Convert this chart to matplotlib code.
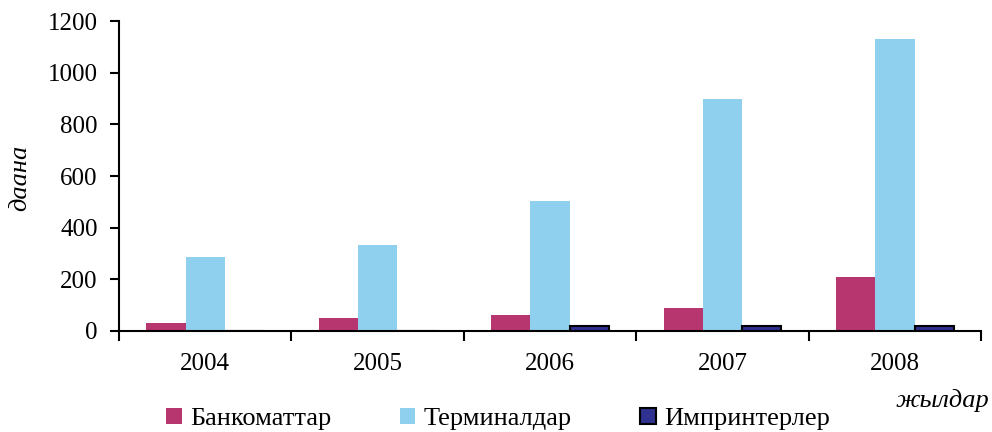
import numpy as np
import matplotlib.pyplot as plt

# data
years = ['2004', '2005', '2006', '2007', '2008']
bankomattar = [32, 50, 62, 89, 209]
terminaldar = [286, 333, 503, 898, 1130]
imprinterler = [0, 0, 20, 20, 20]

plt.rcParams['font.family'] = ['Liberation Serif', 'DejaVu Serif']

fig = plt.figure(figsize=(9.92, 4.32), dpi=100)
ax = fig.add_axes([0.12, 0.234, 0.869, 0.717])

x = np.arange(len(years))
w = 0.228
ax.bar(x - w, bankomattar, w, color='#B83670', label='Банкоматтар')
ax.bar(x, terminaldar, w, color='#8FD0EE', label='Терминалдар')
ax.bar(x + w, imprinterler, w, color='#2E3190', edgecolor='black', linewidth=1.5,
       label='Импринтерлер')

ax.set_xlim(-0.5, len(years) - 0.5)
ax.set_ylim(0, 1200)
ax.set_yticks(range(0, 1201, 200))
ax.set_xticks(x)
ax.set_xticklabels(years)
ax.set_xticks(np.arange(-0.5, len(years), 1), minor=True)
ax.tick_params(axis='x', which='major', length=0, pad=16, labelsize=18)
ax.tick_params(axis='x', which='minor', length=7, width=1.5, direction='out')
ax.tick_params(axis='y', length=6.5, width=1.5, labelsize=18, pad=9)

for s in ['top', 'right']:
    ax.spines[s].set_visible(False)
ax.spines['left'].set_linewidth(1.5)
ax.spines['bottom'].set_linewidth(1.5)

# axis titles
fig.text(20 / 992, 1 - 178 / 432, 'даана', fontstyle='italic', fontsize=19,
         rotation=90, ha='center', va='center')
fig.text(989 / 992, 1 - 401 / 432, 'жылдар', fontstyle='italic', fontsize=19,
         ha='right', va='center')

fig.legend(loc='center left', bbox_to_anchor=(166 / 992, 1 - 419 / 432), ncol=3,
           frameon=False, fontsize=19, borderpad=0, borderaxespad=0,
           handlelength=0.6, handleheight=0.6, handletextpad=0.3,
           columnspacing=2.6)

fig.savefig('out.png', dpi=100)
